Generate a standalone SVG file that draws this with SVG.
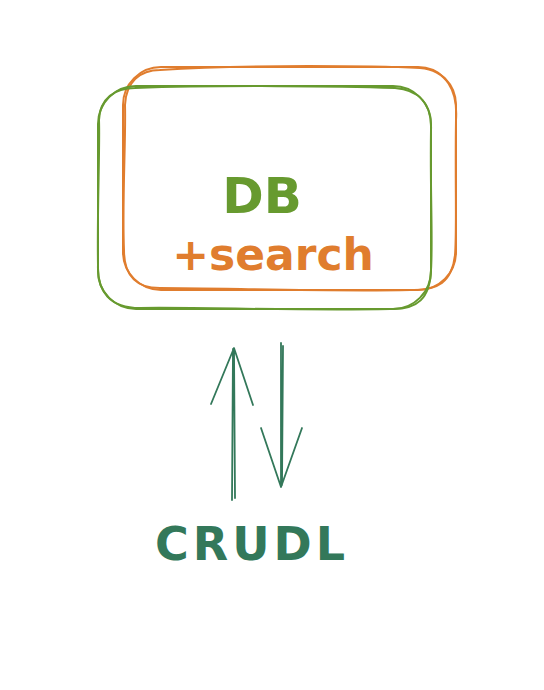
<svg xmlns="http://www.w3.org/2000/svg" width="544" height="690" viewBox="0 0 544 690">
<style>
.g{fill:none;stroke:#679a2f;stroke-width:2;stroke-linecap:round}
.o{fill:none;stroke:#e07d2e;stroke-width:2;stroke-linecap:round}
.a{fill:none;stroke:#33785a;stroke-width:1.8;stroke-linecap:round;stroke-linejoin:round}
.t{font-family:"DejaVu Sans",sans-serif;font-weight:bold;text-anchor:middle}
</style>
<rect width="544" height="690" fill="#ffffff"/>
<g id="search-box">
<rect class="o" x="123" y="67" width="333" height="223" rx="38"/>
<path class="o" d="M160,70 C250,64 380,66 420,68 C446,70 458,90 456,120 C455,180 457,230 455,255 C452,282 438,291 410,290 C330,292 220,288 160,288 C135,288 124,275 124,250 C122,200 126,140 125,105 C126,82 140,70 160,70" stroke-width="1.2"/>
</g>
<g id="db-box">
<rect class="g" x="98" y="86" width="333" height="223" rx="38"/>
<path class="g" d="M135,88 C220,85 340,86 395,88 C420,90 432,105 431,130 C430,190 433,240 431,270 C430,298 418,310 390,309 C300,311 200,307 140,308 C110,308 97,292 98,265 C97,210 100,150 99,120 C100,98 115,88 135,88" stroke-width="1.2"/>
<text class="t" x="262" y="213" font-size="50" fill="#679a2f">DB</text>
<text class="t" x="273" y="270" font-size="44" fill="#e07d2e">+search</text>
</g>
<g id="connectors">
<path class="a" d="M232,500 L233,349 M235,498 L234,350 M211,404 L234,348 L253,405"/>
<path class="a" d="M281,343 L281,487 M283,346 L282,485 M261,428 L281,487 L302,428"/>
</g>
<g id="crudl">
<text class="t" x="252" y="560" font-size="46" fill="#33785a" letter-spacing="4">CRUDL</text>
</g>
</svg>
